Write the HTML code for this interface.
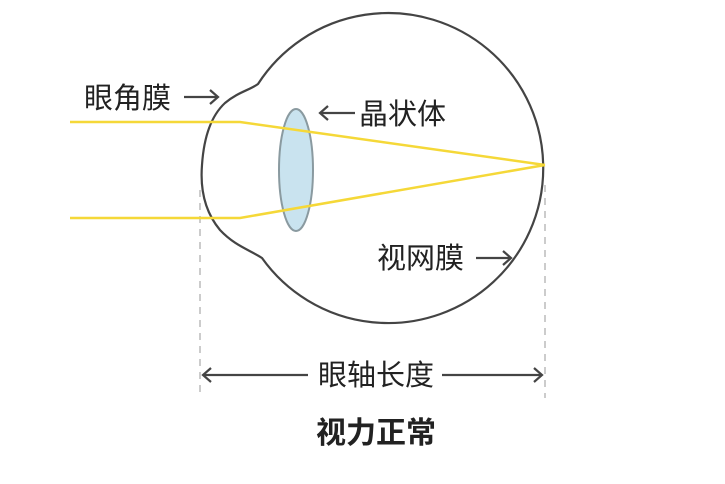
<!DOCTYPE html>
<html><head><meta charset="utf-8"><style>
body{margin:0;background:#fff;}
svg text{font-family:"Liberation Sans","Noto Sans CJK SC",sans-serif;fill:#222;}
</style></head><body>
<svg width="725" height="479" viewBox="0 0 725 479" xmlns="http://www.w3.org/2000/svg">
<g stroke="#bbb" stroke-width="1.5" stroke-dasharray="7,6">
<line x1="200" y1="190" x2="200" y2="398"/>
<line x1="545" y1="185" x2="545" y2="398"/>
</g>
<path d="M258,84 A155,155 0 1 1 262,258 C250,250 235,246 220,230 C205,212 200,190 202,165 C204,135 212,115 225,103 C238,92 250,90 258,84 Z" fill="#fff" stroke="#444" stroke-width="2.2"/>
<ellipse cx="296" cy="170" rx="17" ry="61" fill="#c9e3ef" stroke="#8a9aa0" stroke-width="2"/>
<g stroke="#f5d838" stroke-width="2.5" fill="none">
<polyline points="70,122 240,122 545,165"/>
<polyline points="70,218 240,218 545,165"/>
</g>
<g stroke="#444" stroke-width="2.2" fill="none">
<line x1="184" y1="97" x2="218" y2="97"/><polyline points="210,90 218,97 210,104"/>
<line x1="355" y1="113" x2="320" y2="113"/><polyline points="328,106 320,113 328,120"/>
<line x1="476" y1="258" x2="511" y2="258"/><polyline points="503,251 511,258 503,265"/>
<line x1="203" y1="375" x2="308" y2="375"/><line x1="442" y1="375" x2="542" y2="375"/>
<polyline points="211,368 203,375 211,382"/><polyline points="534,368 542,375 534,382"/>
</g>
<text x="84" y="108" font-size="29">眼角膜</text>
<text x="359" y="124" font-size="29">晶状体</text>
<text x="377" y="268" font-size="29">视网膜</text>
<text x="376" y="385" font-size="29" text-anchor="middle">眼轴长度</text>
<text x="376" y="443" font-size="30" font-weight="bold" text-anchor="middle">视力正常</text>
</svg>
</body></html>
